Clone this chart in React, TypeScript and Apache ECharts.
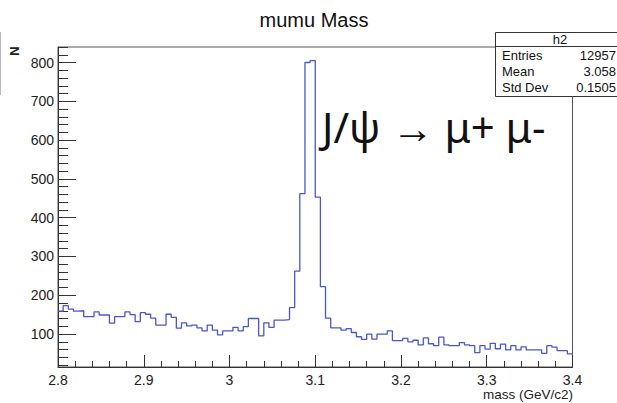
import React, { useEffect, useRef } from "react";
import * as echarts from "echarts";

// Histogram h2: 100 bins from 2.8 to 3.4 GeV/c2
const xMin = 2.8;
const xMax = 3.4;
const binWidth = 0.006;
const counts = [
  159, 173, 164, 159, 160, 145, 145, 157, 149, 149,
  128, 145, 145, 157, 150, 132, 155, 151, 141, 123,
  123, 151, 143, 115, 129, 121, 123, 116, 108, 123,
  110, 98, 108, 108, 117, 108, 119, 140, 140, 95,
  129, 117, 136, 136, 137, 168, 262, 462, 800, 805,
  453, 222, 141, 116, 116, 110, 114, 104, 93, 86,
  100, 87, 100, 100, 108, 83, 83, 89, 80, 84,
  72, 90, 75, 70, 92, 72, 70, 70, 78, 72,
  70, 52, 70, 61, 76, 62, 74, 59, 70, 59,
  67, 59, 59, 59, 50, 70, 66, 57, 57, 49,
];
const xMajorTicks = [2.8, 2.9, 3.0, 3.1, 3.2, 3.3, 3.4];
const xMinorTicks = [
  2.82, 2.84, 2.86, 2.88, 2.92, 2.94, 2.96, 2.98, 3.02, 3.04, 3.06, 3.08,
  3.12, 3.14, 3.16, 3.18, 3.22, 3.24, 3.26, 3.28, 3.32, 3.34, 3.36, 3.38,
];
const yMajorTicks = [100, 200, 300, 400, 500, 600, 700, 800];
const yMinorTicks = [
  20, 40, 60, 80, 120, 140, 160, 180, 220, 240, 260, 280, 320, 340, 360, 380,
  420, 440, 460, 480, 520, 540, 560, 580, 620, 640, 660, 680, 720, 740, 760,
  780, 820, 840,
];
const yMin = 15;
const yMax = 840;
const statLabels = ["Entries", "Mean", "Std Dev"];
const statValues = ["12957", "3.058", "0.1505"];

const FONT = "'Liberation Sans', Arial, Helvetica, sans-serif";

export default function App() {
  const ref = useRef<HTMLDivElement>(null);
  useEffect(() => {
    if (!ref.current) return;
    const chart = echarts.init(ref.current, null, { renderer: "svg" });
    const data: [number, number][] = counts.map((c, i) => [
      +(xMin + i * binWidth).toFixed(4),
      c,
    ]);
    data.push([xMax, counts[counts.length - 1]]);

    const axisColor = "#333";
    const xBase = {
      type: "value" as const,
      min: xMin,
      max: xMax,
      position: "bottom" as const,
      splitLine: { show: false },
    };
    const yBase = {
      type: "value" as const,
      min: yMin,
      max: yMax,
      position: "left" as const,
      splitLine: { show: false },
    };

    const statRowsY = [55, 71, 87];
    const statGraphics: any[] = [];
    statLabels.forEach((l, i) => {
      statGraphics.push({
        type: "text",
        x: 502,
        y: statRowsY[i],
        style: {
          text: l,
          fill: "#111",
          font: `13px ${FONT}`,
          textAlign: "left",
          textVerticalAlign: "middle",
        },
      });
      statGraphics.push({
        type: "text",
        x: 616,
        y: statRowsY[i],
        style: {
          text: statValues[i],
          fill: "#111",
          font: `13px ${FONT}`,
          textAlign: "right",
          textVerticalAlign: "middle",
        },
      });
    });

    chart.setOption({
      animation: false,
      backgroundColor: "#fff",
      grid: {
        left: 58,
        top: 47,
        right: 44.5,
        bottom: 36,
        show: true,
        borderColor: "#555",
        borderWidth: 1,
        backgroundColor: "transparent",
      },
      xAxis: [
        {
          ...xBase,
          axisLine: { show: true, lineStyle: { color: axisColor, width: 1 } },
          axisTick: {
            show: true,
            inside: true,
            length: 12,
            customValues: xMajorTicks,
            lineStyle: { color: axisColor },
          },
          axisLabel: {
            show: true,
            customValues: xMajorTicks,
            formatter: (v: number) => String(+v.toFixed(1)),
            fontSize: 14,
            fontFamily: FONT,
            color: "#222",
            margin: 6,
          },
        },
        {
          ...xBase,
          axisLine: { show: false },
          axisTick: {
            show: true,
            inside: true,
            length: 6,
            customValues: xMinorTicks,
            lineStyle: { color: axisColor },
          },
          axisLabel: { show: false },
        },
      ],
      yAxis: [
        {
          ...yBase,
          axisLine: { show: true, lineStyle: { color: axisColor, width: 1 } },
          axisTick: {
            show: true,
            inside: true,
            length: 18,
            customValues: yMajorTicks,
            lineStyle: { color: axisColor },
          },
          axisLabel: {
            show: true,
            customValues: yMajorTicks,
            fontSize: 14,
            fontFamily: FONT,
            color: "#222",
            margin: 4,
          },
        },
        {
          ...yBase,
          axisLine: { show: false },
          axisTick: {
            show: true,
            inside: true,
            length: 10,
            customValues: yMinorTicks,
            lineStyle: { color: axisColor },
          },
          axisLabel: { show: false },
        },
      ],
      series: [
        {
          type: "line",
          xAxisIndex: 0,
          yAxisIndex: 0,
          step: "end",
          data,
          symbol: "none",
          lineStyle: { color: "#4a56cf", width: 1.3 },
          silent: true,
        },
      ],
      graphic: [
        {
          type: "text",
          x: 314,
          y: 20,
          style: {
            text: "mumu Mass",
            fill: "#111",
            font: `20px ${FONT}`,
            textAlign: "center",
            textVerticalAlign: "middle",
          },
        },
        {
          type: "text",
          x: 14,
          y: 51,
          rotation: Math.PI / 2,
          style: {
            text: "N",
            fill: "#222",
            font: `bold 13px ${FONT}`,
            textAlign: "center",
            textVerticalAlign: "middle",
          },
        },
        {
          type: "line",
          shape: { x1: 0.5, y1: 32, x2: 0.5, y2: 95 },
          style: { stroke: "#bbb", lineWidth: 1 },
        },
        {
          type: "text",
          x: 573,
          y: 394.5,
          style: {
            text: "mass (GeV/c2)",
            fill: "#222",
            font: `13.5px ${FONT}`,
            textAlign: "right",
            textVerticalAlign: "middle",
          },
        },
        {
          type: "text",
          x: 322,
          y: 126,
          style: {
            text: "J/ψ → μ+ μ-",
            fill: "#111",
            font: `42px 'Noto Sans', 'Open Sans', sans-serif`,
            textAlign: "left",
            textVerticalAlign: "middle",
          },
        },
        {
          type: "group",
          z: 100,
          children: [
            {
              type: "rect",
              shape: { x: 495.5, y: 32.5, width: 130, height: 64 },
              style: { fill: "#fff", stroke: "#333", lineWidth: 1 },
            },
            {
              type: "line",
              shape: { x1: 495.5, y1: 46.5, x2: 617, y2: 46.5 },
              style: { stroke: "#333", lineWidth: 1 },
            },
            {
              type: "text",
              x: 560,
              y: 39.5,
              style: {
                text: "h2",
                fill: "#111",
                font: `13px ${FONT}`,
                textAlign: "center",
                textVerticalAlign: "middle",
              },
            },
            ...statGraphics,
          ],
        },
      ],
    });
    return () => chart.dispose();
  }, []);
  return (
    <div
      ref={ref}
      style={{ position: "absolute", left: 0, top: 0, width: 617, height: 403 }}
    />
  );
}
